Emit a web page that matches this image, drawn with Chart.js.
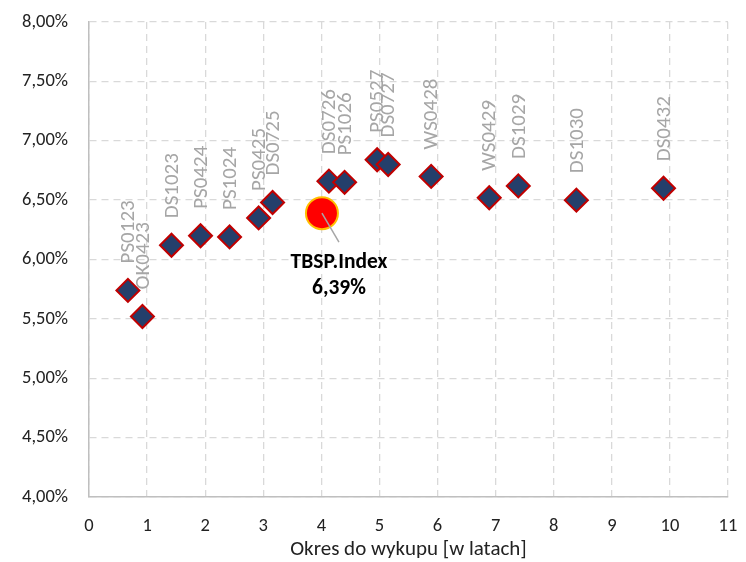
<!DOCTYPE html>
<html>
<head>
<meta charset="utf-8">
<script src="https://cdn.jsdelivr.net/npm/chart.js@4/dist/chart.umd.min.js"></script>
<style>
  html, body { margin: 0; padding: 0; background: #fff; }
  #wrap { width: 746px; height: 562px; }
</style>
</head>
<body>
<div id="wrap"><canvas id="curve"></canvas></div>
<script>
// bonds: name, years to maturity, yield in %
var bond_names = ["PS0123", "OK0423", "DS1023", "PS0424", "PS1024", "PS0425", "DS0725",
                  "DS0726", "PS1026", "PS0527", "DS0727", "WS0428", "WS0429", "DS1029",
                  "DS1030", "DS0432"];
var bond_years = [0.67, 0.92, 1.42, 1.92, 2.42, 2.92, 3.16, 4.13, 4.40, 4.96, 5.15, 5.89,
                  6.89, 7.39, 8.39, 9.89];
var bond_yields = [5.74, 5.52, 6.12, 6.20, 6.19, 6.35, 6.48, 6.66, 6.65, 6.84, 6.80, 6.70,
                   6.52, 6.62, 6.50, 6.60];

var index_name = "TBSP.Index";
var index_years = [4.01];
var index_yields = [6.39];

var font = 'Carlito, Lato, "Liberation Sans", sans-serif';

function pct(v) {
    return v.toFixed(2).replace('.', ',') + '%';
}

function noPadding() {
    return {left: 0, top: 0, right: 0, bottom: 0};
}

var bondPoints = bond_years.map(function (x, i) { return {x: x, y: bond_yields[i]}; });
var indexPoints = index_years.map(function (x, i) { return {x: x, y: index_yields[i]}; });

// rotated bond names above the diamonds + callout for the index
var labelPlugin = {
    id: 'labels',
    afterDatasetsDraw: function (chart) {
        var ctx = chart.ctx;
        var meta = chart.getDatasetMeta(1);
        ctx.save();
        ctx.font = '21px ' + font;
        ctx.fillStyle = '#A6A6A6';
        ctx.textAlign = 'left';
        ctx.textBaseline = 'middle';
        meta.data.forEach(function (pt, i) {
            ctx.save();
            ctx.translate(pt.x + 1, pt.y - 27);
            ctx.rotate(-Math.PI / 2);
            ctx.fillText(bond_names[i], 0, 0);
            ctx.restore();
        });

        var ip = chart.getDatasetMeta(0).data[0];
        ctx.strokeStyle = '#A6A6A6';
        ctx.lineWidth = 1.5;
        ctx.beginPath();
        ctx.moveTo(ip.x, ip.y);
        ctx.lineTo(ip.x + 17, ip.y + 29);
        ctx.stroke();
        ctx.fillStyle = '#000';
        ctx.font = 'bold 21.5px ' + font;
        ctx.textAlign = 'center';
        ctx.fillText(index_name, ip.x + 17, ip.y + 49);
        ctx.fillText(pct(index_yields[0]), ip.x + 17, ip.y + 75);
        ctx.restore();
    }
};

var ctx = document.getElementById('curve');
var chart = new Chart(ctx, {
    type: 'scatter',
    data: {
        datasets: [
            {
                label: index_name,
                data: indexPoints,
                pointStyle: 'circle',
                pointRadius: 16,
                backgroundColor: '#FF0000',
                borderColor: '#FFC000',
                borderWidth: 2
            },
            {
                label: 'bonds',
                data: bondPoints,
                pointStyle: 'rectRot',
                pointRadius: 11.5,
                backgroundColor: '#243F6B',
                borderColor: '#C00000',
                borderWidth: 2
            }
        ]
    },
    options: {
        responsive: true,
        maintainAspectRatio: false,
        animation: false,
        layout: { padding: { top: 22, right: 16, left: 0, bottom: 0 } },
        plugins: {
            legend: { display: false },
            tooltip: { enabled: false }
        },
        scales: {
            x: {
                type: 'linear',
                min: 0, max: 11,
                afterFit: function (s) {
                    s.height = 65;
                    s.getPadding = noPadding;
                },
                ticks: { stepSize: 1, padding: 18, color: '#222', font: { family: font, size: 18.5 } },
                grid: { color: '#D9D9D9', lineWidth: 1.3, drawTicks: false },
                border: { display: true, color: '#BFBFBF', width: 1.5, dash: [7, 5] },
                title: {
                    display: true,
                    text: 'Okres do wykupu [w latach]',
                    color: '#222',
                    font: { family: font, size: 21 },
                    padding: { top: 0, bottom: 0 }
                }
            },
            y: {
                min: 4, max: 8,
                afterFit: function (s) {
                    s.width = 89;
                    s.getPadding = noPadding;
                },
                ticks: { stepSize: 0.5, padding: 21, color: '#222', font: { family: font, size: 18.5 },
                         callback: function (v) { return pct(v); } },
                grid: { color: '#D9D9D9', lineWidth: 1.3, drawTicks: false },
                border: { display: true, color: '#BFBFBF', width: 1.5, dash: [7, 5] }
            }
        }
    },
    plugins: [labelPlugin]
});
</script>
</body>
</html>
